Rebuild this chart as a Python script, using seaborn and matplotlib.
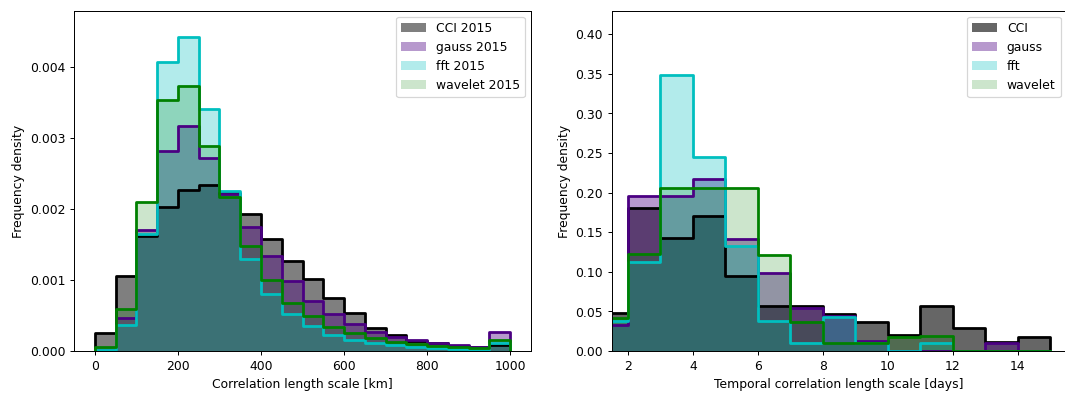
import numpy as np
import pandas as pd
import matplotlib
matplotlib.use("Agg")
import matplotlib.pyplot as plt
import seaborn as sns

# Spatial correlation length scale histograms (density per km), bins of 50 km
space_edges = list(range(0, 1001, 50))
cci_2015 = [0.00025, 0.00105, 0.00162, 0.00203, 0.00227, 0.00233, 0.00222, 0.00193, 0.00158, 0.00126,
            0.00101, 0.00075, 0.00053, 0.00033, 0.00023, 0.00014, 0.00011, 0.00007, 0.00006, 0.00008]
gauss_2015 = [0.00002, 0.00047, 0.00170, 0.00282, 0.00316, 0.00272, 0.00221, 0.00175, 0.00133, 0.00098,
              0.00070, 0.00052, 0.00038, 0.00026, 0.00020, 0.00015, 0.00011, 0.00008, 0.00006, 0.00027]
fft_2015 = [0.00001, 0.00037, 0.00165, 0.00406, 0.00442, 0.00340, 0.00225, 0.00130, 0.00080, 0.00052,
            0.00035, 0.00023, 0.00015, 0.00011, 0.00008, 0.00006, 0.00004, 0.00003, 0.00002, 0.00011]
wavelet_2015 = [0.00006, 0.00059, 0.00209, 0.00353, 0.00373, 0.00289, 0.00216, 0.00148, 0.00100, 0.00068,
                0.00049, 0.00034, 0.00025, 0.00018, 0.00013, 0.00010, 0.00007, 0.00006, 0.00004, 0.00016]

# Temporal correlation length scale histograms (density per day), 1-day bins
time_edges = list(range(1, 16))
cci_t = [0.048, 0.181, 0.143, 0.171, 0.095, 0.057, 0.057, 0.047, 0.037, 0.020, 0.057, 0.0286, 0.011, 0.018]
gauss_t = [0.033, 0.196, 0.196, 0.217, 0.1415, 0.098, 0.054, 0.044, 0.012, 0.0, 0.0, 0.0, 0.0097, 0.0]
fft_t = [0.038, 0.113, 0.349, 0.245, 0.132, 0.038, 0.0097, 0.0425, 0.0105, 0.0, 0.0105, 0.0, 0.0, 0.0]
wavelet_t = [0.042, 0.122, 0.2055, 0.2055, 0.2055, 0.121, 0.037, 0.0097, 0.0097, 0.0175, 0.019, 0.0, 0.0, 0.0]

line_colors = ["black", "indigo", "c", "green"]


def draw_panel(ax, edges, series, labels, alphas):
    edges = np.asarray(edges, dtype=float)
    centers = 0.5 * (edges[:-1] + edges[1:])
    # filled densities first
    for vals, lab, col, a in zip(series, labels, line_colors, alphas):
        df = pd.DataFrame({"x": centers, "w": vals})
        sns.histplot(data=df, x="x", weights="w", bins=edges.tolist(), stat="count",
                     element="step", fill=True, color=col, alpha=a, linewidth=0,
                     label=lab, ax=ax)
    # step outlines on top, dropping to zero at both ends
    eps = (edges[1] - edges[0]) * 1e-4
    padded = np.concatenate([[edges[0] - eps], edges, [edges[-1] + eps]])
    for vals, col in zip(series, line_colors):
        df = pd.DataFrame({"x": centers, "w": vals})
        sns.histplot(data=df, x="x", weights="w", bins=padded.tolist(), stat="count",
                     element="step", fill=False, color=col, linewidth=2.25, ax=ax)
    ax.set_ylabel("Frequency density")
    ax.legend(loc="upper right")


DPI = 88.75
fig = plt.figure(figsize=(1065 / DPI, 395.2 / DPI), dpi=DPI)
ax1 = fig.add_axes([0.0695, 0.1114, 0.4291, 0.8615])
ax2 = fig.add_axes([0.5744, 0.1114, 0.4272, 0.8615])

draw_panel(ax1, space_edges, [cci_2015, gauss_2015, fft_2015, wavelet_2015],
           ["CCI 2015", "gauss 2015", "fft 2015", "wavelet 2015"], [0.5, 0.4, 0.3, 0.2])
ax1.set_xlim(-50, 1050)
ax1.set_ylim(0, 0.00479)
ax1.set_xlabel("Correlation length scale [km]")

draw_panel(ax2, time_edges, [cci_t, gauss_t, fft_t, wavelet_t],
           ["CCI", "gauss", "fft", "wavelet"], [0.6, 0.4, 0.3, 0.2])
ax2.set_xlim(1.5, 15.5)
ax2.set_ylim(0, 0.43)
ax2.set_xlabel("Temporal correlation length scale [days]")

fig.savefig("out.png", dpi=DPI)
